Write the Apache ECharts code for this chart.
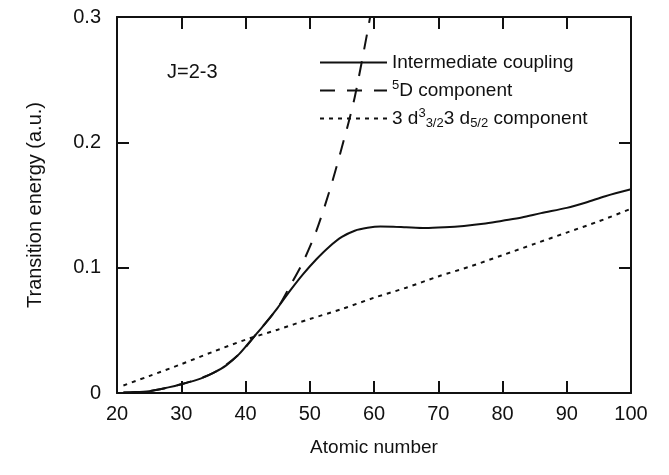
<!DOCTYPE html>
<html>
<head>
<meta charset="utf-8">
<title>Transition energy vs atomic number</title>
<script src="https://cdn.jsdelivr.net/npm/echarts@6/dist/echarts.min.js"></script>
<style>
  html, body { margin: 0; padding: 0; background: #fff; }
  #chart { width: 669px; height: 475px; }
</style>
</head>
<body>
<div id="chart"></div>
<script>
// ---- data ----
const SERIES_NAMES = ["Intermediate coupling", "5D component", "3d3/2 3d5/2 component"];

// Intermediate coupling (solid)
const IC_Z = [21, 22, 25, 28, 30, 33, 35, 37, 39, 41, 43, 45, 47, 49, 51, 53, 55, 57, 59, 61, 63, 65, 68, 71, 74, 77, 80, 83, 86, 90, 93, 96, 100];
const IC_E = [0.0003, 0.0005, 0.0015, 0.0045, 0.007, 0.0115, 0.016, 0.022, 0.031, 0.043, 0.055, 0.068, 0.082, 0.095, 0.1065, 0.1165, 0.1245, 0.1295, 0.1318, 0.1328, 0.1327, 0.1322, 0.1316, 0.1322, 0.1333, 0.135, 0.1375, 0.140, 0.1435, 0.1477, 0.152, 0.157, 0.1625];

// 5D component (dashed)
const D5_Z = [21, 25, 30, 35, 39, 42, 45, 47, 49, 51, 53, 55, 57, 59.4];
const D5_E = [0.0003, 0.0015, 0.007, 0.016, 0.031, 0.049, 0.068, 0.086, 0.105, 0.129, 0.160, 0.196, 0.236, 0.300];

// 3d3/2 3d5/2 component (dotted)
const DD_Z = [21, 25, 30, 35, 40, 45, 50, 55, 60, 65, 70, 75, 80, 85, 90, 95, 100];
const DD_E = [0.006, 0.0135, 0.023, 0.033, 0.0425, 0.0505, 0.059, 0.067, 0.076, 0.084, 0.093, 0.101, 0.110, 0.119, 0.128, 0.137, 0.147];

const X_MIN = 20, X_MAX = 100, X_STEP = 10;
const Y_MIN = 0, Y_MAX = 0.3, Y_STEP = 0.1;

(function () {
  const el = document.getElementById("chart");
  const chart = echarts.init(el, null, { renderer: "canvas" });

  const FONT = "Liberation Sans, Arial, sans-serif";
  const INK = "#111";

  function pairs(xs, ys) {
    return xs.map((x, i) => [x, ys[i]]);
  }

  // box axes: bottom/left carry labels, top/right only ticks
  const axisCommon = {
    axisLine: { show: true, onZero: false, lineStyle: { color: INK, width: 2 } },
    axisTick: { show: true, inside: true, length: 12, lineStyle: { color: INK, width: 2 } },
    splitLine: { show: false }
  };

  const option = {
    animation: false,
    backgroundColor: "#fff",
    textStyle: { fontFamily: FONT, color: INK },

    grid: { left: 117, right: 38, top: 17, bottom: 82, containLabel: false },

    legend: {
      orient: "vertical",
      left: 314,
      top: 48,
      itemWidth: 67,
      itemHeight: 14,
      itemGap: 7,
      selectedMode: false,
      data: SERIES_NAMES,
      itemStyle: { opacity: 0 },   // line only, no marker dot
      textStyle: {
        fontFamily: FONT,
        fontSize: 19,
        color: INK,
        rich: {
          sup: { fontFamily: FONT, fontSize: 13, color: INK, padding: [0, 0, 10, 0] },
          sub: { fontFamily: FONT, fontSize: 13, color: INK, padding: [10, 0, 0, 0] }
        }
      },
      formatter: function (name) {
        if (name === SERIES_NAMES[1]) return "{sup|5}D component";
        if (name === SERIES_NAMES[2]) return "3 d{sup|3}{sub|3/2}3 d{sub|5/2} component";
        return name;
      }
    },

    graphic: [
      {
        type: "text",
        left: 167,
        top: 62,
        style: { text: "J=2-3", font: "20px " + FONT, fill: INK }
      }
    ],

    xAxis: [
      Object.assign({}, axisCommon, {
        type: "value",
        position: "bottom",
        min: X_MIN, max: X_MAX, interval: X_STEP,
        name: "Atomic number",
        nameLocation: "middle",
        nameGap: 45,
        nameTextStyle: { fontFamily: FONT, fontSize: 19, color: INK },
        axisLabel: { margin: 11, fontFamily: FONT, fontSize: 20, color: INK }
      }),
      Object.assign({}, axisCommon, {
        type: "value",
        position: "top",
        min: X_MIN, max: X_MAX, interval: X_STEP,
        axisLabel: { show: false }
      })
    ],

    yAxis: [
      Object.assign({}, axisCommon, {
        type: "value",
        position: "left",
        min: Y_MIN, max: Y_MAX, interval: Y_STEP,
        name: "Transition energy (a.u.)",
        nameLocation: "middle",
        nameGap: 72,
        nameTextStyle: { fontFamily: FONT, fontSize: 20, color: INK },
        axisLabel: { margin: 16, fontFamily: FONT, fontSize: 20, color: INK }
      }),
      Object.assign({}, axisCommon, {
        type: "value",
        position: "right",
        min: Y_MIN, max: Y_MAX, interval: Y_STEP,
        axisLabel: { show: false }
      })
    ],

    series: [
      {
        name: SERIES_NAMES[0],
        type: "line",
        data: pairs(IC_Z, IC_E),
        symbol: "none",
        smooth: 0.3,
        clip: true,
        lineStyle: { color: INK, width: 2, type: "solid" },
        itemStyle: { color: INK }
      },
      {
        name: SERIES_NAMES[1],
        type: "line",
        data: pairs(D5_Z, D5_E),
        symbol: "none",
        smooth: 0.3,
        clip: true,
        lineStyle: { color: INK, width: 2, type: [15, 12] },
        itemStyle: { color: INK }
      },
      {
        name: SERIES_NAMES[2],
        type: "line",
        data: pairs(DD_Z, DD_E),
        symbol: "none",
        smooth: 0.3,
        clip: true,
        lineStyle: { color: INK, width: 2, type: [4, 5] },
        itemStyle: { color: INK }
      }
    ]
  };

  chart.setOption(option);
})();
</script>
</body>
</html>
